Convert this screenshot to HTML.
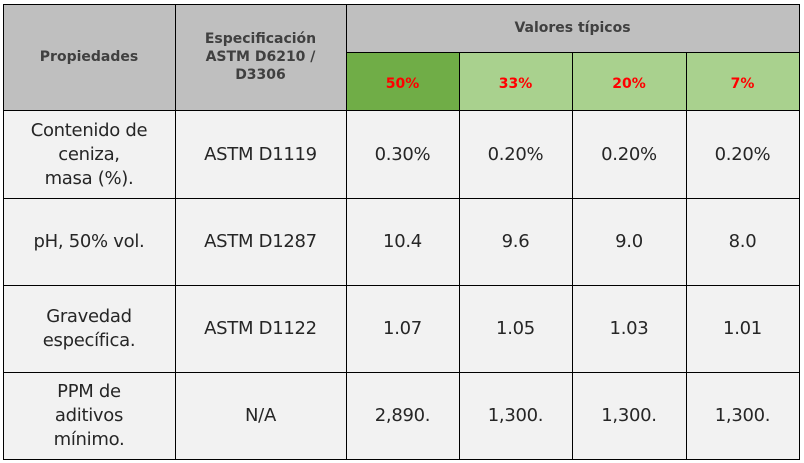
<!DOCTYPE html>
<html><head><meta charset="utf-8"><style>
html,body{margin:0;padding:0;background:#fff;width:804px;height:463px;overflow:hidden}
.c{position:absolute;box-sizing:border-box;display:flex;align-items:center;justify-content:center;text-align:center;font-family:"DejaVu Sans","Liberation Sans",sans-serif;color:#262626}
.h{background:#bfbfbf;color:#404040;font-weight:bold;font-size:14px;line-height:18px}
.g1{background:#70ad47;color:#ff0000;font-weight:bold;font-size:14px}
.g2{background:#a9d18e;color:#ff0000;font-weight:bold;font-size:14px}
.d{background:#f2f2f2;font-size:18px;line-height:24px;letter-spacing:-0.3px}
.l{position:absolute;background:#000}
</style></head><body>
<div style="position:absolute;left:0;top:0;width:804px;height:463px">
<div class="c h" style="left:3px;top:4px;width:172px;height:106px">Propiedades</div>
<div class="c h" style="left:175px;top:4px;width:171px;height:106px">Especificación<br>ASTM D6210 /<br>D3306</div>
<div class="c h" style="left:346px;top:4px;width:453px;height:48px">Valores típicos</div>
<div class="c g1" style="left:346px;top:52px;width:113px;height:58px;padding-top:6px">50%</div>
<div class="c g2" style="left:459px;top:52px;width:113px;height:58px;padding-top:6px">33%</div>
<div class="c g2" style="left:572px;top:52px;width:114px;height:58px;padding-top:6px">20%</div>
<div class="c g2" style="left:686px;top:52px;width:113px;height:58px;padding-top:6px">7%</div>

<div class="c d" style="left:3px;top:111px;width:172px;height:87px">Contenido de<br>ceniza,<br>masa (%).</div>
<div class="c d" style="left:175px;top:111px;width:171px;height:87px">ASTM D1119</div>
<div class="c d" style="left:346px;top:111px;width:113px;height:87px">0.30%</div>
<div class="c d" style="left:459px;top:111px;width:113px;height:87px">0.20%</div>
<div class="c d" style="left:572px;top:111px;width:114px;height:87px">0.20%</div>
<div class="c d" style="left:686px;top:111px;width:113px;height:87px">0.20%</div>

<div class="c d" style="left:3px;top:198px;width:172px;height:87px">pH, 50% vol.</div>
<div class="c d" style="left:175px;top:198px;width:171px;height:87px">ASTM D1287</div>
<div class="c d" style="left:346px;top:198px;width:113px;height:87px">10.4</div>
<div class="c d" style="left:459px;top:198px;width:113px;height:87px">9.6</div>
<div class="c d" style="left:572px;top:198px;width:114px;height:87px">9.0</div>
<div class="c d" style="left:686px;top:198px;width:113px;height:87px">8.0</div>

<div class="c d" style="left:3px;top:285px;width:172px;height:87px">Gravedad<br>específica.</div>
<div class="c d" style="left:175px;top:285px;width:171px;height:87px">ASTM D1122</div>
<div class="c d" style="left:346px;top:285px;width:113px;height:87px">1.07</div>
<div class="c d" style="left:459px;top:285px;width:113px;height:87px">1.05</div>
<div class="c d" style="left:572px;top:285px;width:114px;height:87px">1.03</div>
<div class="c d" style="left:686px;top:285px;width:113px;height:87px">1.01</div>

<div class="c d" style="left:3px;top:372px;width:172px;height:87px">PPM de<br>aditivos<br>mínimo.</div>
<div class="c d" style="left:175px;top:372px;width:171px;height:87px">N/A</div>
<div class="c d" style="left:346px;top:372px;width:113px;height:87px">2,890.</div>
<div class="c d" style="left:459px;top:372px;width:113px;height:87px">1,300.</div>
<div class="c d" style="left:572px;top:372px;width:114px;height:87px">1,300.</div>
<div class="c d" style="left:686px;top:372px;width:113px;height:87px">1,300.</div>

<!-- grid lines -->
<div class="l" style="left:3px;top:4px;width:797px;height:1px"></div>
<div class="l" style="left:346px;top:52px;width:454px;height:1px"></div>
<div class="l" style="left:3px;top:110px;width:797px;height:1px"></div>
<div class="l" style="left:3px;top:198px;width:797px;height:1px"></div>
<div class="l" style="left:3px;top:285px;width:797px;height:1px"></div>
<div class="l" style="left:3px;top:372px;width:797px;height:1px"></div>
<div class="l" style="left:3px;top:459px;width:797px;height:1px"></div>
<div class="l" style="left:3px;top:4px;width:1px;height:456px"></div>
<div class="l" style="left:175px;top:4px;width:1px;height:456px"></div>
<div class="l" style="left:346px;top:4px;width:1px;height:456px"></div>
<div class="l" style="left:459px;top:52px;width:1px;height:408px"></div>
<div class="l" style="left:572px;top:52px;width:1px;height:408px"></div>
<div class="l" style="left:686px;top:52px;width:1px;height:408px"></div>
<div class="l" style="left:799px;top:4px;width:1px;height:456px"></div>
</div>
</body></html>
